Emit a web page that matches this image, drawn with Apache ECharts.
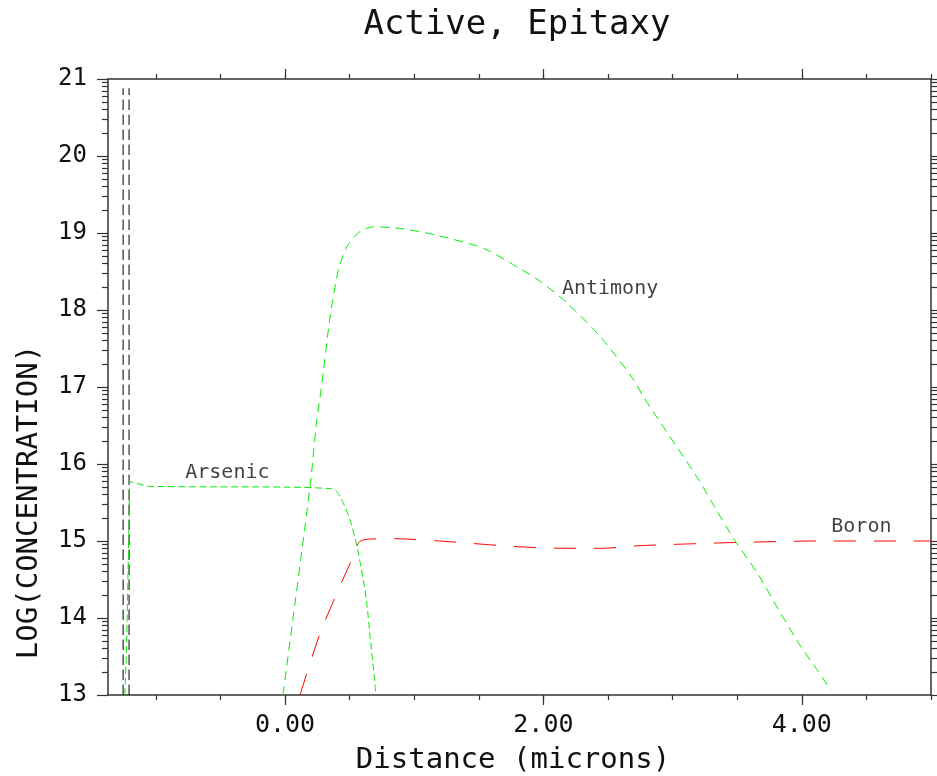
<!DOCTYPE html>
<html>
<head>
<meta charset="utf-8">
<script src="https://cdn.jsdelivr.net/npm/echarts@6/dist/echarts.min.js"></script>
<style>
  html, body { margin: 0; padding: 0; background: #fff; }
  #chart { width: 937px; height: 776px; }
</style>
</head>
<body>
<div id="chart"></div>
<script>
// distance (microns) / log(concentration)
let arsenicX = [-1.240, -1.227, -1.207, -1.200, -1.150, -1.047, 0.000, 0.349, 0.401, 0.452, 0.504, 0.543, 0.568, 0.607, 0.633, 0.659, 0.698, 0.705];
let arsenicY = [13.00, 13.58, 15.27, 15.77, 15.75, 15.71, 15.70, 15.68, 15.64, 15.49, 15.27, 15.03, 14.84, 14.49, 14.19, 13.76, 13.11, 13.00];

let antimonyX = [-0.016, 0.194, 0.246, 0.279, 0.349, 0.413, 0.478, 0.581, 0.684, 0.891, 1.176, 1.537, 1.796, 1.977, 2.184, 2.442, 2.700, 2.775, 3.204, 3.308, 3.488, 3.657, 3.837, 3.992, 4.121, 4.225];
let antimonyY = [13.00, 15.71, 16.57, 16.96, 17.91, 18.52, 18.82, 19.02, 19.08, 19.06, 18.97, 18.80, 18.56, 18.37, 18.09, 17.65, 17.09, 16.87, 15.79, 15.49, 14.99, 14.58, 14.06, 13.63, 13.32, 13.06];

let boronX = [0.116, 0.271, 0.401, 0.543, 0.570, 0.620, 0.840, 1.280, 1.670, 2.000, 2.442, 2.752, 3.085, 3.473, 4.121, 4.767, 5.000];
let boronY = [13.00, 13.80, 14.32, 14.86, 14.98, 15.02, 15.03, 14.99, 14.94, 14.91, 14.905, 14.94, 14.96, 14.98, 15.00, 15.00, 15.00];

// the two black dashed verticals near the left edge
let boundaryX = [-1.253, -1.207];
let boundaryY = [13, 20.88];

// curve labels
let labelNames = ['Arsenic', 'Antimony', 'Boron'];
let labelX = [-0.446, 2.516, 4.461];
let labelY = [15.88, 18.27, 15.19];

// ticks
let xMin = -1.37, xMax = 5.0;
let yMin = 13, yMax = 21;
let xMajor = [0, 2, 4];
let xMinor = [-1, -0.5, 0, 0.5, 1, 1.5, 2, 2.5, 3, 3.5, 4, 4.5, 5];
let yInts = [13, 14, 15, 16, 17, 18, 19, 20, 21];
let yMinor = [];
for (let d = 13; d < 21; d++) {
    for (let k = 2; k <= 9; k++) yMinor.push(d + Math.log10(k));
}

let FONT = '"DejaVu Sans Mono", monospace';
let AX = '#333';

function pairs(xs, ys) {
    return xs.map(function (x, i) { return [x, ys[i]]; });
}

function xAx(pos, ticks, len, major) {
    return {
        type: 'value', position: pos, min: xMin, max: xMax,
        axisLine: { show: major, onZero: false, lineStyle: { color: AX, width: 1.5 } },
        axisTick: { show: true, customValues: ticks, length: len, inside: false, lineStyle: { color: AX, width: 1.2 } },
        axisLabel: {
            show: major && pos === 'bottom', customValues: xMajor, margin: 18,
            fontFamily: FONT, fontSize: 25, color: '#111',
            formatter: function (v) { return v.toFixed(2); }
        },
        splitLine: { show: false }
    };
}

function yAx(pos, ticks, len, major) {
    return {
        type: 'value', position: pos, min: yMin, max: yMax, interval: 1,
        axisLine: { show: major, onZero: false, lineStyle: { color: AX, width: 1.5 } },
        axisTick: { show: true, customValues: ticks, length: len, inside: false, lineStyle: { color: AX, width: 1.2 } },
        axisLabel: { show: major && pos === 'left', margin: 21, fontFamily: FONT, fontSize: 24, color: '#111' },
        splitLine: { show: false }
    };
}

let option = {
    backgroundColor: '#fff',
    animation: false,
    grid: { left: 108, right: 6, top: 79, bottom: 81, containLabel: false, outerBoundsMode: 'none' },
    xAxis: [
        xAx('bottom', xMajor, 10, true),
        xAx('bottom', xMinor, 5, false),
        xAx('top', xMajor, 10, true),
        xAx('top', xMinor, 5, false)
    ],
    yAxis: [
        yAx('left', yInts, 11, true),
        yAx('left', yMinor, 6, false),
        yAx('right', yInts, 11, true),
        yAx('right', yMinor, 6, false)
    ],
    graphic: [
        {
            type: 'text', x: 517, y: 25, silent: true,
            style: { text: 'Active, Epitaxy', font: '34px ' + FONT, fill: '#111', textAlign: 'center', textVerticalAlign: 'middle', align: 'center', verticalAlign: 'middle' }
        },
        {
            type: 'text', x: 513, y: 760, silent: true,
            style: { text: 'Distance (microns)', font: '29px ' + FONT, fill: '#111', textAlign: 'center', textVerticalAlign: 'middle', align: 'center', verticalAlign: 'middle' }
        },
        {
            type: 'text', x: 29, y: 502, rotation: Math.PI / 2, silent: true,
            style: { text: 'LOG(CONCENTRATION)', font: '29px ' + FONT, fill: '#111', textAlign: 'center', textVerticalAlign: 'middle', align: 'center', verticalAlign: 'middle' }
        }
    ],
    series: [
        {
            name: 'boundary1', type: 'line', symbol: 'none',
            data: [[boundaryX[0], boundaryY[0]], [boundaryX[0], boundaryY[1]]],
            lineStyle: { color: '#000', width: 1, type: [10.5, 4.5] }
        },
        {
            name: 'boundary2', type: 'line', symbol: 'none',
            data: [[boundaryX[1], boundaryY[0]], [boundaryX[1], boundaryY[1]]],
            lineStyle: { color: '#000', width: 1, type: [10.5, 4.5] }
        },
        {
            name: 'Arsenic', type: 'line', symbol: 'none', smooth: 0.25,
            data: pairs(arsenicX, arsenicY),
            lineStyle: { color: '#00ee00', width: 1, type: [7, 3.5] }
        },
        {
            name: 'Antimony', type: 'line', symbol: 'none', smooth: 0.25,
            data: pairs(antimonyX, antimonyY),
            lineStyle: { color: '#00ee00', width: 1, type: [9, 6] }
        },
        {
            name: 'Boron', type: 'line', symbol: 'none', smooth: 0.25,
            data: pairs(boronX, boronY),
            lineStyle: { color: '#ff0000', width: 1, type: [22, 18] }
        },
        {
            name: 'labels', type: 'scatter', symbolSize: 0, silent: true,
            data: labelNames.map(function (n, i) { return { name: n, value: [labelX[i], labelY[i]] }; }),
            label: {
                show: true, position: 'inside', formatter: '{b}',
                fontFamily: FONT, fontSize: 20, color: '#111'
            }
        }
    ]
};

let myChart = echarts.init(document.getElementById('chart'));
myChart.setOption(option);
</script>
</body>
</html>
